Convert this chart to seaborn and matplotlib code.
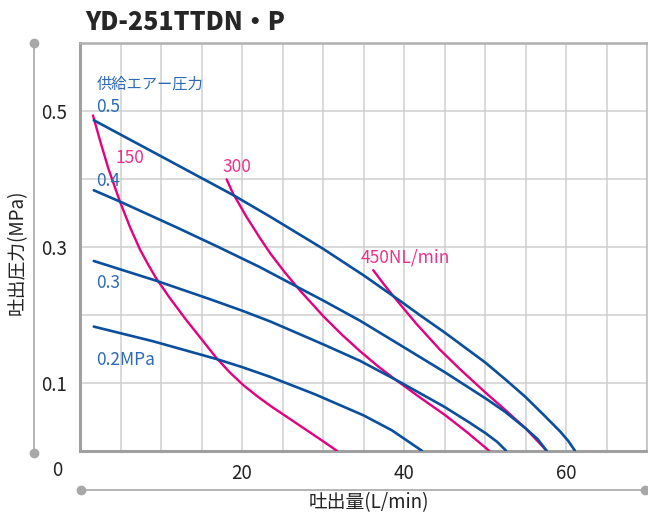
import numpy as np
import pandas as pd
import matplotlib.pyplot as plt
import seaborn as sns
from matplotlib.lines import Line2D

# supply air pressure curves (MPa), x = flow L/min, y = discharge pressure MPa
p05_x = [1.7, 10, 18.9, 23.5, 30.0, 35.0, 39.5, 42, 45, 47.5, 50, 52.5, 55, 57.3, 59.3, 60.3, 61.1]
p05_y = [0.486, 0.433, 0.376, 0.344, 0.297, 0.258, 0.2205, 0.199, 0.174, 0.152, 0.130, 0.105, 0.079, 0.052, 0.028, 0.014, 0.0]
p04_x = [1.7, 5.0, 12, 17, 22.2, 27.6, 30.0, 34.6, 40.0, 45.0, 50.1, 52.5, 55.0, 56.5, 57.6]
p04_y = [0.383, 0.366, 0.328, 0.300, 0.270, 0.236, 0.221, 0.191, 0.152, 0.1157, 0.0767, 0.057, 0.033, 0.017, 0.0]
p03_x = [1.7, 9.4, 16, 20, 23.5, 27, 30.1, 34.6, 39.5, 45.0, 48, 50.1, 51.5, 52.6]
p03_y = [0.279, 0.250, 0.223, 0.206, 0.190, 0.172, 0.156, 0.132, 0.101, 0.0644, 0.042, 0.0255, 0.013, 0.0]
p02_x = [1.7, 9, 16.8, 20, 23.5, 29.0, 35.0, 38.5, 42.2]
p02_y = [0.1825, 0.161, 0.135, 0.123, 0.1085, 0.083, 0.052, 0.030, 0.0]

# air consumption curves (NL/min)
c150_x = [1.6, 2.5, 3.5, 4.94, 6.2, 7.4, 8.4, 9.38, 11, 13, 15, 16.8, 18.5, 20.2, 22, 23.5, 25.5, 27.5, 29.5, 31.7]
c150_y = [0.493, 0.455, 0.415, 0.366, 0.328, 0.296, 0.274, 0.254, 0.226, 0.194, 0.164, 0.137, 0.115, 0.096,
          0.079, 0.066, 0.050, 0.034, 0.018, 0.0]
c300_x = [18.1, 18.9, 20.5, 22.2, 23.5, 25.3, 27.2, 30.1, 32.3, 34.6, 36.8, 39.0, 42, 45.0, 47.8, 50.5]
c300_y = [0.399, 0.378, 0.345, 0.313, 0.290, 0.262, 0.235, 0.197, 0.171, 0.146, 0.124, 0.104, 0.078, 0.053, 0.027, 0.0]
c450_x = [36.2, 37.5, 38.7, 41.5, 44.4, 46.9, 50.1, 52.5, 55.0, 57.6]
c450_y = [0.2655, 0.245, 0.227, 0.187, 0.149, 0.120, 0.085, 0.060, 0.033, 0.0]

supply_labels = ['0.5', '0.4', '0.3', '0.2MPa']
supply_label_y = [0.505, 0.396, 0.247, 0.133]
air_labels = ['150', '300', '450NL/min']
air_label_pos = [(4.4, 0.43), (17.6, 0.417), (34.6, 0.284)]

blue = '#0a4f9e'
blue_txt = '#2c6ab4'
pink = '#e4007f'
pink_txt = '#e8338e'
gray = '#a8a8a8'

curves = {
    'c150': (c150_x, c150_y), 'c300': (c300_x, c300_y), 'c450': (c450_x, c450_y),
    'p02': (p02_x, p02_y), 'p03': (p03_x, p03_y), 'p04': (p04_x, p04_y), 'p05': (p05_x, p05_y),
}
rows = []
for name, (xs, ys) in curves.items():
    for i, (a, b) in enumerate(zip(xs, ys)):
        rows.append({'curve': name, 'order': i, 'flow': a, 'pressure': b})
df = pd.DataFrame(rows)

sns.set_style('white')
plt.rcParams['font.family'] = ['Noto Sans CJK JP', 'DejaVu Sans']

fig = plt.figure(figsize=(6.48, 5.13), dpi=100)
ax = fig.add_axes([80 / 648, 1 - 450.7 / 513, 567 / 648, 408 / 513])

pal = {k: (pink if k.startswith('c') else blue) for k in curves}
for name in curves:
    sub = df[df['curve'] == name]
    sns.lineplot(data=sub, x='flow', y='pressure', color=pal[name], sort=False,
                 estimator=None, lw=1.9 if name.startswith('p') else 1.7, ax=ax, zorder=3)

ax.set_xlim(0, 70)
ax.set_ylim(0, 0.6)
ax.set_xticks(np.arange(0, 71, 5))
ax.set_yticks(np.arange(0, 0.61, 0.1))
ax.set_xticklabels(['20' if v == 20 else '40' if v == 40 else '60' if v == 60 else '' for v in range(0, 71, 5)])
ax.set_yticklabels(['', '0.1', '', '0.3', '', '0.5', ''])
ax.tick_params(length=0, labelsize=13.5, colors='#222222', pad=9)
ax.grid(True, color='#cfcfcf', lw=1.1, zorder=0)
ax.set_axisbelow(True)
ax.set_xlabel('')
ax.set_ylabel('')
for side in ['left', 'bottom']:
    ax.spines[side].set_color('#a0a0a0')
    ax.spines[side].set_linewidth(2.2)
ax.spines['top'].set_color('#b0b0b0')
ax.spines['top'].set_linewidth(1.8)
ax.spines['right'].set_color('#c0c0c0')
ax.spines['right'].set_linewidth(1.2)

ax.text(2.0, 0.54, '供給エアー圧力', color=blue_txt, fontsize=11, va='center', ha='left')
for lab, yv in zip(supply_labels, supply_label_y):
    ax.text(2.0, yv, lab, color=blue_txt, fontsize=12.5, va='center', ha='left')
for lab, (xv, yv) in zip(air_labels, air_label_pos):
    ax.text(xv, yv, lab, color=pink_txt, fontsize=12.5, va='center', ha='left')

fig.text(57 / 648, 1 - 470 / 513, '0', fontsize=13.5, color='#222222', ha='center', va='center')
fig.text(85 / 648, 1 - 22 / 513, 'YD-251TTDN・P', fontsize=18, fontweight='black', ha='left', va='center')
fig.text(17 / 648, 1 - 252 / 513, '吐出圧力(MPa)', fontsize=13.5, rotation=90, ha='center', va='center', color='#222222')
fig.text(369 / 648, 1 - 503 / 513, '吐出量(L/min)', fontsize=13.5, ha='center', va='center', color='#222222')

# decorative axis rulers with end dots
fig.add_artist(Line2D([34 / 648, 34 / 648], [1 - 42.7 / 513, 1 - 452.7 / 513], color=gray, lw=1.2,
                      marker='o', markersize=6, markevery=[0, 1]))
fig.add_artist(Line2D([80.7 / 648, 644.5 / 648], [1 - 490 / 513, 1 - 490 / 513], color=gray, lw=1.2,
                      marker='o', markersize=6, markevery=[0, 1]))

fig.savefig('out.png', dpi=100)
